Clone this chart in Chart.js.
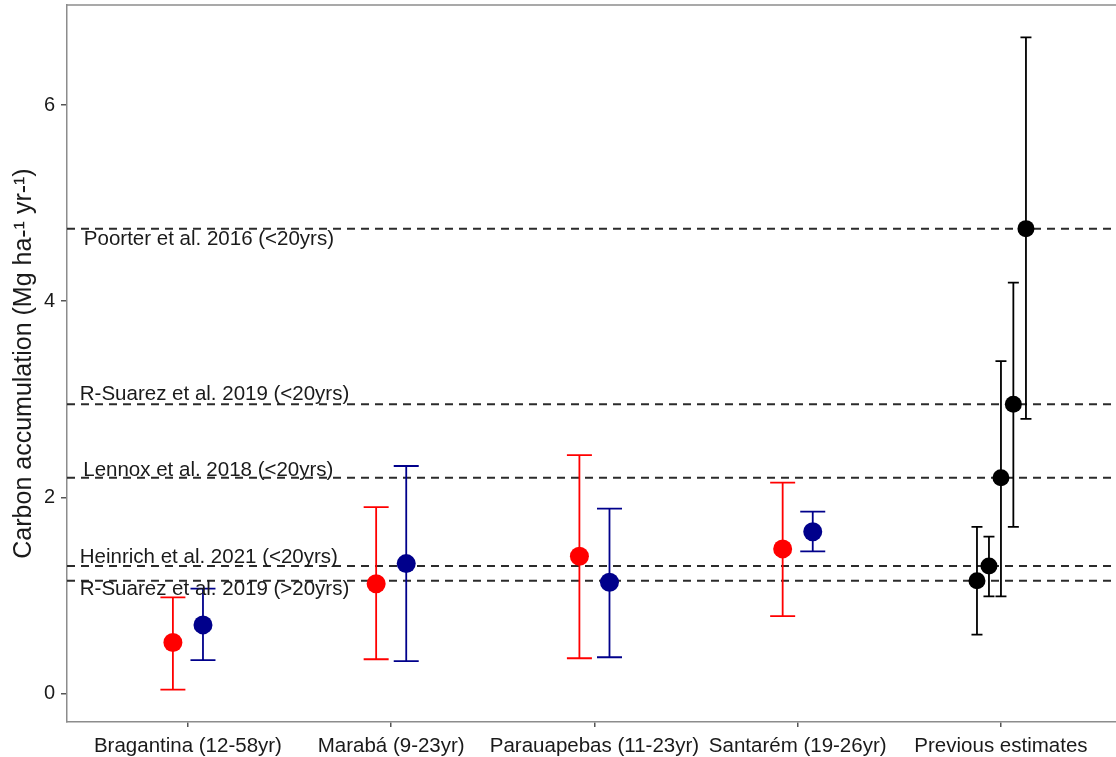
<!DOCTYPE html>
<html>
<head>
<meta charset="utf-8">
<script src="https://cdn.jsdelivr.net/npm/chart.js@4/dist/chart.umd.min.js"></script>
<style>
  html, body { margin: 0; padding: 0; background: #fff; overflow: hidden; }
  #wrap { width: 1116px; height: 757px; }
</style>
</head>
<body>
<div id="wrap"><canvas id="carbon-chart" width="1116" height="757"></canvas></div>
<script>
// categories on the x axis
var categories = ['Bragantina (12-58yr)', 'Marabá (9-23yr)', 'Parauapebas (11-23yr)', 'Santarém (19-26yr)', 'Previous estimates'];

// red series (per site)
var redMean = [0.52, 1.12, 1.40, 1.475];
var redLow  = [0.04, 0.35, 0.36, 0.79];
var redHigh = [0.98, 1.90, 2.43, 2.15];

// blue series (per site)
var blueMean = [0.70, 1.325, 1.135, 1.65];
var blueLow  = [0.34, 0.33, 0.37, 1.45];
var blueHigh = [1.07, 2.32, 1.885, 1.855];

// previous estimates (black)
var prevMean = [1.15, 1.30, 2.20, 2.95, 4.74];
var prevLow  = [0.60, 0.99, 0.99, 1.70, 2.80];
var prevHigh = [1.70, 1.60, 3.39, 4.19, 6.69];

// reference lines + their labels
var refNames  = ['Poorter et al. 2016 (<20yrs)', 'R-Suarez et al. 2019 (<20yrs)', 'Lennox et al. 2018 (<20yrs)', 'Heinrich et al. 2021 (<20yrs)', 'R-Suarez et al. 2019 (>20yrs)'];
var refValues = [4.74, 2.95, 2.20, 1.30, 1.15];
var refLabelX = [-0.512, -0.532, -0.515, -0.532, -0.532];
var refLabelY = [4.63, 3.05, 2.28, 1.39, 1.06];

var yTicks = [0, 2, 4, 6];

var dodge = 0.074;
var prevDodge = [-0.118, -0.059, 0, 0.061, 0.123];

var FONT = "'Liberation Sans', Arial, sans-serif";

// punkte mit x-Verschiebung bauen
var toPoints = (means, shift) => means.map((v, i) => ({ x: i + shift, y: v }));

var redPts = toPoints(redMean, -dodge);
var bluePts = toPoints(blueMean, dodge);
var prevPts = prevMean.map((v, i) => ({ x: 4 + prevDodge[i], y: v }));

// hlines, error bars, top border
var extrasPlugin = {
    id: 'extras',
    beforeDatasetsDraw(chart) {
        var ctx = chart.ctx;
        var xs = chart.scales.x, ys = chart.scales.y;
        var area = chart.chartArea;
        ctx.save();
        ctx.beginPath();
        ctx.rect(area.left, area.top, area.right - area.left, area.bottom - area.top);
        ctx.clip();

        // dashed reference lines
        ctx.strokeStyle = '#2b2b2b';
        ctx.lineWidth = 2;
        ctx.setLineDash([8, 6]);
        refValues.forEach((v) => {
            var y = ys.getPixelForValue(v);
            ctx.beginPath();
            ctx.moveTo(area.left, y);
            ctx.lineTo(area.right, y);
            ctx.stroke();
        });
        ctx.setLineDash([]);

        // error bars
        chart.data.datasets.forEach((ds) => {
            ctx.strokeStyle = ds.barColor;
            ctx.lineWidth = 1.8;
            ds.data.forEach((p, i) => {
                var x = xs.getPixelForValue(p.x);
                var yl = ys.getPixelForValue(ds.low[i]);
                var yh = ys.getPixelForValue(ds.high[i]);
                var hw = ds.capWidth / 2;
                ctx.beginPath();
                ctx.moveTo(x, yl); ctx.lineTo(x, yh);
                ctx.moveTo(x - hw, yl); ctx.lineTo(x + hw, yl);
                ctx.moveTo(x - hw, yh); ctx.lineTo(x + hw, yh);
                ctx.stroke();
            });
        });
        ctx.restore();

        // top border of panel
        ctx.save();
        ctx.strokeStyle = '#8c8c8c';
        ctx.lineWidth = 1.5;
        ctx.beginPath();
        ctx.moveTo(area.left, area.top);
        ctx.lineTo(area.right, area.top);
        ctx.stroke();
        ctx.restore();
    },
    afterDatasetsDraw(chart) {
        var ctx = chart.ctx;
        var xs = chart.scales.x, ys = chart.scales.y;
        ctx.save();
        ctx.fillStyle = '#1a1a1a';
        ctx.font = '20.5px ' + FONT;
        ctx.textAlign = 'left';
        ctx.textBaseline = 'middle';
        refNames.forEach((name, i) => {
            ctx.fillText(name, xs.getPixelForValue(refLabelX[i]), ys.getPixelForValue(refLabelY[i]));
        });
        ctx.restore();
    }
};

var config = {
    type: 'scatter',
    data: {
        datasets: [
            { data: redPts, low: redLow, high: redHigh, barColor: '#ff0000', capWidth: 25,
              backgroundColor: '#ff0000', borderColor: '#ff0000', pointRadius: 9.5, pointHoverRadius: 9.5, borderWidth: 0 },
            { data: bluePts, low: blueLow, high: blueHigh, barColor: '#00008b', capWidth: 25,
              backgroundColor: '#00008b', borderColor: '#00008b', pointRadius: 9.5, pointHoverRadius: 9.5, borderWidth: 0 },
            { data: prevPts, low: prevLow, high: prevHigh, barColor: '#000000', capWidth: 11,
              backgroundColor: '#000000', borderColor: '#000000', pointRadius: 8.5, pointHoverRadius: 8.5, borderWidth: 0 }
        ]
    },
    options: {
        responsive: false,
        animation: false,
        events: [],
        layout: { autoPadding: false, padding: { top: 5, right: 0, left: 0, bottom: 0 } },
        plugins: { legend: { display: false }, tooltip: { enabled: false } },
        scales: {
            x: {
                type: 'linear',
                min: -0.595,
                max: 4.566,
                afterBuildTicks: (scale) => { scale.ticks = categories.map((c, i) => ({ value: i })); },
                afterFit: (scale) => { scale.height = 35; scale.paddingLeft = 0; scale.paddingRight = 0; },
                ticks: {
                    autoSkip: false,
                    maxRotation: 0,
                    padding: 7,
                    color: '#1a1a1a',
                    font: { family: FONT, size: 20.5 },
                    callback: (v) => categories[v]
                },
                grid: { drawOnChartArea: false, tickLength: 5, color: '#555555', lineWidth: 1.5 },
                border: { display: true, color: '#8c8c8c', width: 1.5 }
            },
            y: {
                min: -0.29,
                max: 7.02,
                afterBuildTicks: (scale) => { scale.ticks = yTicks.map((v) => ({ value: v })); },
                afterFit: (scale) => { scale.width = 67; scale.paddingTop = 0; scale.paddingBottom = 0; },
                ticks: {
                    padding: 6,
                    color: '#1a1a1a',
                    font: { family: FONT, size: 20 }
                },
                grid: { drawOnChartArea: false, tickLength: 6, color: '#555555', lineWidth: 1.5 },
                border: { display: true, color: '#8c8c8c', width: 1.5 },
                title: {
                    display: true,
                    text: 'Carbon accumulation (Mg ha-¹ yr-¹)',
                    color: '#1a1a1a',
                    font: { family: FONT, size: 25 },
                    padding: { top: 9, bottom: 0 }
                }
            }
        }
    },
    plugins: [extrasPlugin]
};

new Chart(document.getElementById('carbon-chart').getContext('2d'), config);
</script>
</body>
</html>
